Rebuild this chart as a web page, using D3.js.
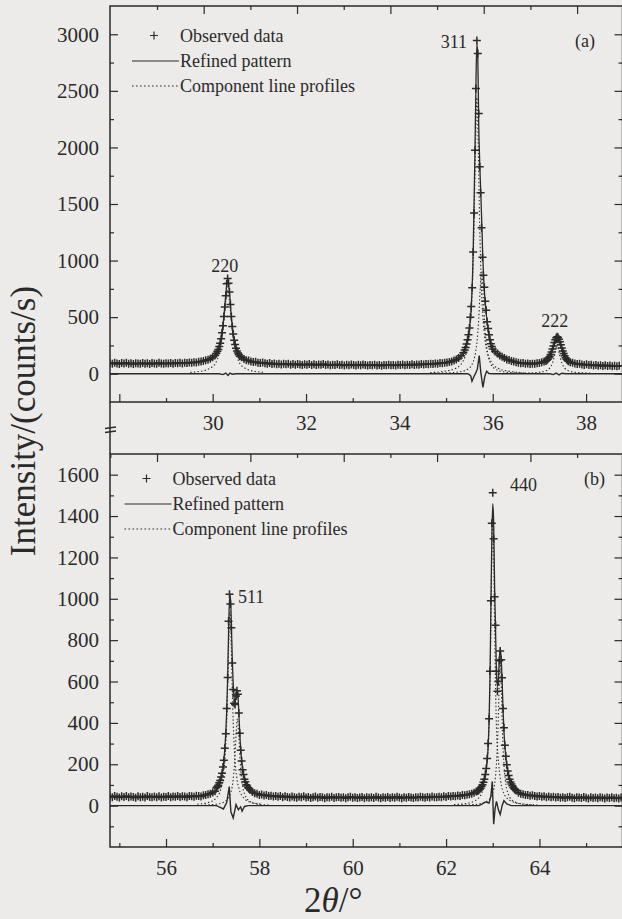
<!DOCTYPE html>
<html>
<head>
<meta charset="utf-8">
<script src="https://cdn.jsdelivr.net/npm/d3@7"></script>
<style>
body { margin: 0; background: #ecebe9; }
svg { display: block; }
</style>
</head>
<body>
<svg id="svg" width="622" height="919"></svg>
<script>
// ---------- panel (a) ----------
// observed counts; each block = [first 2theta, step, counts]
var cntA1 = [93,88,96,91,86,94,90,97,89,92, 85,93,90,87,95,89,92,86,94,90,
	88,96,91,87,93,90,95,88,94,92, 97,91,96,94,99,97,102,100,106,109,
	112,118,124,133,145,162]
var cntA220 = [180,198,214,240,270,310,362,425,505,590, 690,795,842,800,722,612,505,418,350,296,
	258,225,200,182,168,155]
var cntA2 = [146,131,120,116,108,103,106,98,95,99, 92,88,94,86,90,84,89,82,87,83,
	88,80,85,79,86,81,77,84,80,86, 78,83,76,82,79,85,77,81,74,80,
	77,83,76,79,73,80,75,82,77,72, 79,74,81,76,72,78,74,80,73,77,
	71,78,75,80,74,77,72,79,76,81, 75,79,77,83,78,81,79,85,82,86,
	83,88,86,91,89,94,92,98,100,104, 109,116,125,138,158,186]
var cntA311 = [210,232,262,300,345,405,500,595,760,1075, 1420,1975,2520,2945,2830,2300,1830,1600,1290,1030,
	870,765,640,560,460,400,345,300,265,240, 218]
var cntA3 = [196,178,160,150,138,126,121,112,109,101, 98,93,95,88,90,86,89,87,92,95, 101,108]
var cntA222 = [112,118,128,140,152,170,192,218,246,275, 300,318,327,320,305,282,256,228,200,178,
	158,142,128,118,110]
var cntA4 = [102,96,90,85,88,81,78,83,76,79, 73,77,71,75,69,74,68,72,66,71, 67,70]
var obsA = [[27.80, 0.05, cntA1], [30.08, 0.02, cntA220], [30.62, 0.05, cntA2], [35.40, 0.02, cntA311],
	[36.05, 0.05, cntA3], [37.14, 0.02, cntA222], [37.66, 0.05, cntA4]]

var calcA = [[27.8,91],[29.0,89],[29.5,95],[29.8,111],[30.0,147],[30.1,196],[30.16,268],[30.2,360],
	[30.24,505],[30.28,695],[30.3,780],[30.32,815],[30.34,790],[30.36,718],[30.4,505],[30.44,352],
	[30.5,228],[30.6,148],[30.8,108],[31.2,90],[32,80],[33,76],[34,77],[34.6,84],[35.0,98],[35.2,120],
	[35.3,150],[35.4,208],[35.46,298],[35.5,400],[35.54,590],[35.58,1060],[35.62,1980],[35.64,2560],
	[35.66,2915],[35.68,2800],[35.7,2200],[35.72,1880],[35.74,1640],[35.76,1400],[35.78,1120],
	[35.8,890],[35.84,620],[35.9,400],[36.0,215],[36.2,148],[36.5,100],[37.0,93],[37.2,135],
	[37.3,245],[37.34,298],[37.38,322],[37.42,302],[37.46,255],[37.5,200],[37.6,118],[37.8,84],
	[38.2,75],[38.78,69]]

var comp220 = [[29.52,12],[29.72,20],[29.87,34],[29.97,55],[30.07,100],[30.14,180],[30.2,320],[30.26,560],
	[30.32,740],[30.38,560],[30.44,320],[30.5,180],[30.57,100],[30.67,55],[30.77,34],[30.92,20],[31.12,12]]
var comp311a1 = [[34.66,10],[34.96,21],[35.21,49],[35.36,110],[35.46,232],[35.51,390],[35.56,732],
	[35.60,1318],[35.63,2000],[35.66,2440],[35.69,2000],[35.72,1318],[35.76,732],[35.81,390],
	[35.86,232],[35.96,110],[36.11,49],[36.36,21],[36.66,10]]
var comp311a2 = [[34.76,4],[35.06,8],[35.31,18],[35.46,40],[35.56,85],[35.61,144],[35.66,270],
	[35.70,486],[35.73,740],[35.76,900],[35.79,740],[35.82,486],[35.86,270],[35.91,144],[35.96,85],
	[36.06,40],[36.21,18],[36.46,8],[36.76,4]]
var comp222 = [[36.68,6],[36.98,12],[37.13,25],[37.22,50],[37.28,95],[37.33,170],[37.38,255],[37.43,170],
	[37.48,95],[37.54,50],[37.63,25],[37.78,12],[38.08,6]]

var diffA = [[27.8,0],[30.14,0],[30.22,-8],[30.28,6],[30.33,-16],[30.37,5],[30.42,-4],[30.5,0],
	[35.46,0],[35.5,-8],[35.53,-22],[35.555,-67],[35.6,-22],[35.64,10],[35.67,40],[35.71,160],
	[35.745,10],[35.79,-120],[35.83,-25],[35.87,22],[35.92,2],[36.0,0],[37.22,0],[37.3,-8],
	[37.36,6],[37.42,-10],[37.48,4],[37.56,0],[38.78,0]]

// ---------- panel (b) ----------
var cntB1 = [44,41,46,43,39,45,42,47,40,44, 42,38,45,41,43,39,46,42,40,44,
	41,45,39,43,42,46,40,44,43,47, 42,45,44,41,47,45,43,48,46,44,
	50,52,55,58,63,70]
var cntB511 = [86,93,99,111,121,138,156,187,220,278, 348,470,620,892,1022,975,860,690,562,495,
	489,530,555,538,448,350,268,216,174,150, 128,115,101,95,87,83,76]
var cntB2 = [66,60,57,52,54,49,51,46,48,44, 47,43,46,41,45,42,39,44,41,38,
	43,40,45,39,42,37,41,44,38,42, 40,36,41,39,43,37,40,42,38,41,
	36,40,43,38,41,37,39,42,36,40, 38,41,37,43,39,36,40,38,42,37,
	40,38,43,39,36,41,38,42,39,37, 41,39,43,40,38,42,39,44,41,40,
	43,41,45,42,46,44,47,45,49,47, 51,50,53,55,58,62,68]
var cntB440 = [71,74,79,84,92,101,113,128,150,180, 228,300,420,650,990,1365,1513,1290,1010,872,
	650,553,600,700,747,705,618,470,376,292, 239,198,168,146,128,114,104,96,88,82, 78,73]
var cntB3 = [62,57,55,51,52,48,50,46,44,47, 43,45,41,44,40,43,39,42,38,41,
	37,40,43,38,36,41,39,37,42,38, 35,40,37,39,36,41,38,35,39,37, 40,36,38,35,39]
var obsB = [[54.80, 0.05, cntB1], [57.08, 0.02, cntB511], [57.85, 0.05, cntB2], [62.68, 0.02, cntB440],
	[63.55, 0.05, cntB3]]

var calcB = [[54.8,43],[56.0,42],[56.6,46],[56.9,55],[57.05,70],[57.15,105],[57.2,150],[57.24,218],
	[57.28,350],[57.3,458],[57.32,615],[57.34,835],[57.36,990],[57.38,1015],[57.4,880],[57.42,705],
	[57.44,585],[57.46,520],[57.48,498],[57.5,520],[57.52,548],[57.54,530],[57.56,450],[57.58,350],
	[57.6,275],[57.64,180],[57.7,115],[57.8,78],[58.0,54],[58.5,44],[60,40],[61.5,40],[62.2,46],
	[62.5,55],[62.7,73],[62.8,110],[62.86,170],[62.9,280],[62.92,400],[62.94,610],[62.96,950],
	[62.98,1280],[63.0,1460],[63.02,1370],[63.04,1060],[63.06,850],[63.08,640],[63.1,575],[63.12,610],
	[63.14,700],[63.16,760],[63.18,715],[63.2,610],[63.22,470],[63.24,360],[63.28,235],[63.34,145],
	[63.4,104],[63.5,74],[63.8,50],[64.5,40],[65.78,38]]

var comp511a1 = [[56.67,7],[56.92,16],[57.07,36],[57.17,78],[57.22,130],[57.27,249],[57.31,470],[57.34,752],
	[57.37,940],[57.40,752],[57.43,470],[57.47,249],[57.52,130],[57.57,78],[57.67,36],[57.82,16],[58.07,7]]
var comp511a2 = [[56.83,3],[57.08,7],[57.23,16],[57.33,35],[57.38,58],[57.43,111],[57.47,210],[57.50,336],
	[57.53,420],[57.56,336],[57.59,210],[57.63,111],[57.68,58],[57.73,35],[57.83,16],[57.98,7],[58.23,3]]
var comp440a1 = [[62.17,5],[62.42,10],[62.62,24],[62.75,54],[62.83,118],[62.87,196],[62.92,376],[62.95,710],
	[62.975,1136],[63.0,1420],[63.025,1136],[63.05,710],[63.08,376],[63.13,196],[63.17,118],[63.25,54],
	[63.38,24],[63.58,10],[63.83,5]]
var comp440a2 = [[62.33,3],[62.58,5],[62.78,12],[62.91,27],[62.99,58],[63.035,97],[63.075,186],[63.11,350],
	[63.135,560],[63.16,700],[63.185,560],[63.21,350],[63.245,186],[63.285,97],[63.33,58],[63.41,27],
	[63.54,12],[63.74,5],[63.99,3]]

var diffB = [[54.8,0],[57.08,0],[57.16,-8],[57.23,-16],[57.3,15],[57.355,92],[57.39,-30],[57.44,-60],
	[57.5,5],[57.55,-20],[57.6,-6],[57.63,-27],[57.68,-4],[57.76,0],[62.7,0],[62.76,6],[62.84,18],
	[62.92,12],[62.96,45],[62.99,117],[63.02,-90],[63.05,-15],[63.08,21],[63.12,-19],[63.16,-43],
	[63.2,0],[63.24,24],[63.3,8],[63.4,0],[65.78,0]]

// ticks
var xTicksA = [28, 30, 32, 34, 36, 38], xLabelsA = [30, 32, 34, 36, 38], xMinorA = [29, 31, 33, 35, 37]
var yTicksA = [0, 500, 1000, 1500, 2000, 2500, 3000], yMinorA = [250, 750, 1250, 1750, 2250, 2750]
var xTicksB = [56, 58, 60, 62, 64], xLabelsB = [56, 58, 60, 62, 64], xMinorB = [55, 57, 59, 61, 63, 65]
var yTicksB = [0, 200, 400, 600, 800, 1000, 1200, 1400, 1600]
var yMinorB = [-100, 100, 300, 500, 700, 900, 1100, 1300, 1500]

// reflection labels: [text, 2theta, counts, anchor]
var hklA = [["220", 30.26, 900, "middle"], ["311", 35.45, 2880, "end"], ["222", 37.33, 410, "middle"]]
var hklB = [["511", 57.54, 980, "start"], ["440", 63.37, 1520, "start"]]

var legendText = ["Observed data", "Refined pattern", "Component line profiles"]

var ink = "#2a2a2a"
var serif = '"Liberation Serif", "Times New Roman", serif'
var L = 110, R = 622.5
var svg = d3.select("#svg")
var crossPath = "M-4,0H4M0,-4V4"

function points(blocks) {
	var pts = []
	blocks.forEach(function (b) {
		b[2].forEach(function (c, i) { pts.push([b[0] + i * b[1], c]) })
	})
	return pts
}

function axis(g, gen, tx, ty, values, size, pad, labels) {
	var a = g.append("g")
		.attr("transform", "translate(" + tx + "," + ty + ")")
		.call(gen.tickValues(values).tickSize(size).tickPadding(pad)
			.tickFormat(function (d) { return labels && labels.indexOf(d) >= 0 ? d : "" }))
	a.select(".domain").remove()
	a.style("color", ink).attr("font-family", null).attr("font-size", null)
	a.selectAll("text").style("font-family", serif).style("font-size", "21px")
	a.selectAll("line").attr("stroke-width", 1.2)
	return a
}

function legend(g, lx, ly) {
	g.append("path").attr("d", crossPath)
		.attr("transform", "translate(" + (lx - 26) + "," + (ly - 6) + ")")
		.attr("stroke", ink).attr("stroke-width", 1.2)
	g.append("line").attr("x1", lx - 48).attr("x2", lx - 1).attr("y1", ly + 19.5).attr("y2", ly + 19.5)
		.attr("stroke", ink).attr("stroke-width", 1.2)
	g.append("line").attr("x1", lx - 48).attr("x2", lx - 1).attr("y1", ly + 44.5).attr("y2", ly + 44.5)
		.attr("stroke", ink).attr("stroke-width", 1.2).attr("stroke-dasharray", "1.6,2.4")
	legendText.forEach(function (t, i) {
		g.append("text").attr("x", lx).attr("y", ly + i * 25).text(t)
			.attr("font-family", serif).attr("font-size", 18).attr("fill", ink)
	})
}

function panel(p) {
	var x = d3.scaleLinear().domain(p.xDomain).range([L, R])
	var y = d3.scaleLinear().domain(p.yDomain).range([p.bottom, p.top])
	var g = svg.append("g")

	svg.append("clipPath").attr("id", "clip-" + p.id)
		.append("rect").attr("x", L).attr("y", p.top).attr("width", R - L).attr("height", p.bottom - p.top)
	var plot = g.append("g").attr("clip-path", "url(#clip-" + p.id + ")")

	var straight = d3.line().x(function (d) { return x(d[0]) }).y(function (d) { return y(d[1]) })
	var smooth = d3.line().curve(d3.curveMonotoneX)
		.x(function (d) { return x(d[0]) }).y(function (d) { return y(d[1]) })

	plot.append("path").datum(p.diff).attr("d", straight)
		.attr("fill", "none").attr("stroke", ink).attr("stroke-width", 1.4)

	plot.selectAll("path.comp").data(p.comps).join("path").attr("class", "comp")
		.attr("d", smooth).attr("fill", "none").attr("stroke", ink)
		.attr("stroke-width", 1.1).attr("stroke-dasharray", "1.4,2.2")

	plot.selectAll("path.obs").data(points(p.obs)).join("path").attr("class", "obs")
		.attr("d", crossPath)
		.attr("transform", function (d) { return "translate(" + x(d[0]) + "," + y(d[1]) + ")" })
		.attr("stroke", "#2b2b2b").attr("stroke-width", 1.5)

	plot.append("path").datum(p.calc).attr("d", smooth)
		.attr("fill", "none").attr("stroke", ink).attr("stroke-width", 1.3)

	// frame and ticks (ticks point inward on all four sides)
	g.append("rect").attr("x", L).attr("y", p.top).attr("width", R - L).attr("height", p.bottom - p.top)
		.attr("fill", "none").attr("stroke", ink).attr("stroke-width", 1.5)

	axis(g, d3.axisLeft(y), L, 0, p.yTicks, -8, 11, p.yTicks)
	axis(g, d3.axisLeft(y), L, 0, p.yMinor, -4, 11, null)
	axis(g, d3.axisRight(y), R, 0, p.yTicks, -8, 4, null)
	axis(g, d3.axisRight(y), R, 0, p.yMinor, -4, 4, null)
	axis(g, d3.axisBottom(x), 0, p.bottom, p.xTicks, -8, 13, p.xLabels)
	axis(g, d3.axisBottom(x), 0, p.bottom, p.xMinor, -4, 13, null)
	// the top scale of the original sits ~9px left of the bottom one
	axis(g, d3.axisTop(x), -9, p.top, p.xLabels, -8, 4, null)
	axis(g, d3.axisTop(x), -9, p.top, p.xMinor, -4, 4, null)

	p.hkl.forEach(function (h) {
		g.append("text").attr("x", x(h[1])).attr("y", y(h[2])).text(h[0])
			.attr("text-anchor", h[3]).attr("font-family", serif).attr("font-size", 18).attr("fill", ink)
	})
	g.append("text").attr("x", p.tagX).attr("y", p.top + p.tagDy).text(p.tag)
		.attr("font-family", serif).attr("font-size", 18).attr("fill", ink)

	legend(g, p.legendX, p.legendY)
}

panel({id: "a", top: 6, bottom: 402, xDomain: [27.8, 38.78], yDomain: [-250, 3250],
	obs: obsA, calc: calcA, comps: [comp220, comp311a1, comp311a2, comp222], diff: diffA,
	xTicks: xTicksA, xLabels: xLabelsA, xMinor: xMinorA, yTicks: yTicksA, yMinor: yMinorA,
	hkl: hklA, tag: "(a)", tagX: 575, tagDy: 40.5, legendX: 180, legendY: 41.5})

panel({id: "b", top: 454, bottom: 847, xDomain: [54.8, 65.78], yDomain: [-200, 1700],
	obs: obsB, calc: calcB, comps: [comp511a1, comp511a2, comp440a1, comp440a2], diff: diffB,
	xTicks: xTicksB, xLabels: xLabelsB, xMinor: xMinorB, yTicks: yTicksB, yMinor: yMinorB,
	hkl: hklB, tag: "(b)", tagX: 584, tagDy: 30.5, legendX: 172.5, legendY: 484.5})

// left axis runs on through the gap, with a break mark
svg.append("line").attr("x1", L).attr("x2", L).attr("y1", 402).attr("y2", 454)
	.attr("stroke", ink).attr("stroke-width", 1.5)
svg.append("path").attr("d", "M105,428.5L116,427M105,432.5L116,431")
	.attr("stroke", ink).attr("stroke-width", 1.3).attr("fill", "none")

// axis titles
svg.append("text").attr("transform", "translate(35,421) rotate(-90)")
	.attr("text-anchor", "middle").attr("font-family", serif).attr("font-size", 35).attr("fill", ink)
	.text("Intensity/(counts/s)")
var xt = svg.append("text").attr("x", 304).attr("y", 912)
	.attr("font-family", serif).attr("font-size", 35).attr("fill", ink)
xt.append("tspan").text("2")
xt.append("tspan").attr("font-style", "italic").text("θ")
xt.append("tspan").text("/°")
</script>
</body>
</html>
